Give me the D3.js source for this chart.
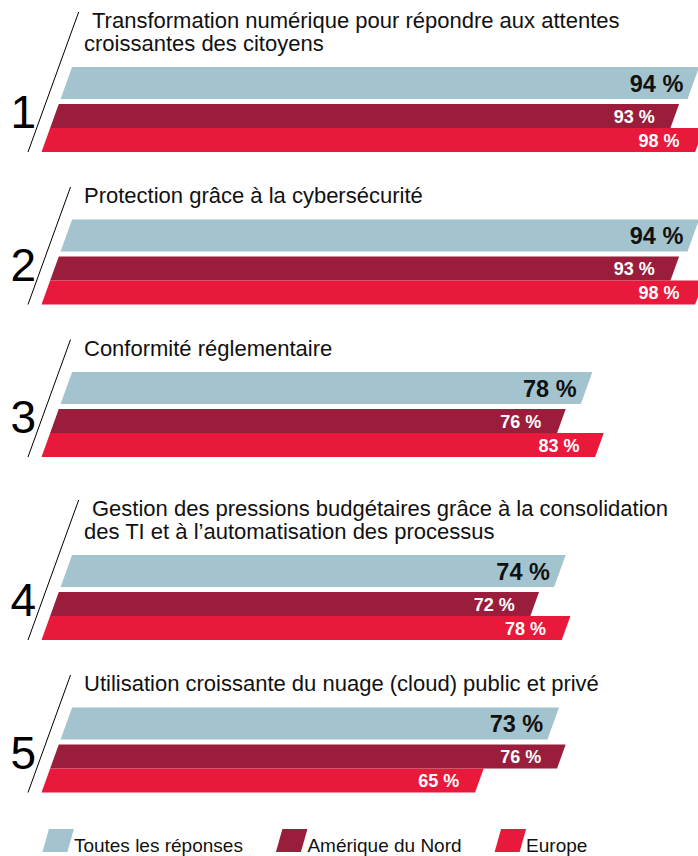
<!DOCTYPE html>
<html>
<head>
<meta charset="utf-8">
<script src="https://cdn.jsdelivr.net/npm/d3@7"></script>
<style>
  html, body { margin: 0; padding: 0; background: #fff; }
  svg { display: block; }
  text { font-family: "Liberation Sans", Arial, Helvetica, sans-serif; }
</style>
</head>
<body>
<div id="chart"></div>
<script>
// ---- Data ----
const titleLines = [
  ["Transformation numérique pour répondre aux attentes", "croissantes des citoyens"],
  ["Protection grâce à la cybersécurité"],
  ["Conformité réglementaire"],
  ["Gestion des pressions budgétaires grâce à la consolidation", "des TI et à l’automatisation des processus"],
  ["Utilisation croissante du nuage (cloud) public et privé"]
];
const ranks = ["1", "2", "3", "4", "5"];
const seriesNames = ["Toutes les réponses", "Amérique du Nord", "Europe"];
const valuesAll = [94, 94, 78, 74, 73];
const valuesNA  = [93, 93, 76, 72, 76];
const valuesEU  = [98, 98, 83, 78, 65];

// ---- Styles / layout ----
const W = 698, H = 856;
const colors = ["#a3c4cf", "#9a1e3b", "#e8193a"];
const labelColors = ["#111", "#fff", "#fff"];
const labelSizes = [23.5, 18, 18];
const labelOffsets = [10, 20, 20];
const lineH = 22.5, titleToBar = 16.5;
const barH = [32, 24, 24];
const barGap = [0, 5, 0];
const slope = 0.36;

const x = d3.scaleLinear().domain([0, 100]).range([0, 667]);

const svg = d3.select("#chart").append("svg")
  .attr("width", W).attr("height", H);

const seriesValues = [valuesAll, valuesNA, valuesEU];

let prevBottom = null;
titleLines.forEach((lines, i) => {
  const firstBase = prevBottom === null ? 28 : prevBottom + 51 + 8 * (lines.length - 1);
  const lastBase = firstBase + (lines.length - 1) * lineH;
  const tops = [], bots = [];
  let y = lastBase + titleToBar;
  for (let s = 0; s < 3; s++) {
    y += barGap[s];
    tops.push(y);
    y += barH[s];
    bots.push(y);
  }
  const redBot = bots[2];
  const leftEdge = yy => 41.5 + slope * (redBot - yy);

  const g = svg.append("g");

  // slash
  const slashTop = firstBase - 16;
  g.append("line")
    .attr("x1", 28).attr("y1", redBot)
    .attr("x2", 28 + 0.362 * (redBot - slashTop)).attr("y2", slashTop)
    .attr("stroke", "#000").attr("stroke-width", 1);

  // title
  lines.forEach((t, j) => {
    g.append("text")
      .attr("x", (lines.length > 1 && j === 0) ? 92 : 84)
      .attr("y", firstBase + j * lineH)
      .attr("font-size", 22)
      .attr("fill", "#111")
      .text(t);
  });

  // rank number
  g.append("text")
    .attr("x", 36).attr("y", tops[2])
    .attr("text-anchor", "end")
    .attr("font-size", 46)
    .attr("font-weight", 300)
    .attr("fill", "#000")
    .text(ranks[i]);

  // bars
  seriesValues.forEach((vals, s) => {
    const v = vals[i];
    const w = x(v);
    const t = tops[s], b = bots[s];
    const pts = [[leftEdge(t), t], [leftEdge(t) + w, t], [leftEdge(b) + w, b], [leftEdge(b), b]];
    g.append("path")
      .attr("d", d3.line()(pts) + "Z")
      .attr("fill", colors[s]);
    const mid = (t + b) / 2;
    g.append("text")
      .attr("x", leftEdge(mid) + w - labelOffsets[s])
      .attr("y", mid + (s === 0 ? 8.5 : 6.8))
      .attr("text-anchor", "end")
      .attr("font-size", labelSizes[s])
      .attr("font-weight", "bold")
      .attr("fill", labelColors[s])
      .text(v + " %");
  });
  prevBottom = redBot;
});

// ---- Legend ----
const legend = svg.append("g");
let lx = 42.4;
const legBot = 852, legH = 23, legW = 25, legSlant = 6.5;
seriesNames.forEach((name, s) => {
  const pts = [[lx + legSlant, legBot - legH], [lx + legSlant + legW, legBot - legH], [lx + legW, legBot], [lx, legBot]];
  legend.append("path").attr("d", d3.line()(pts) + "Z").attr("fill", colors[s]);
  const txt = legend.append("text")
    .attr("x", lx + 31.5).attr("y", legBot)
    .attr("font-size", 19)
    .attr("fill", "#111")
    .text(name);
  const tw = txt.node().getComputedTextLength();
  lx = lx + 31.5 + tw + 33;
});
</script>
</body>
</html>
